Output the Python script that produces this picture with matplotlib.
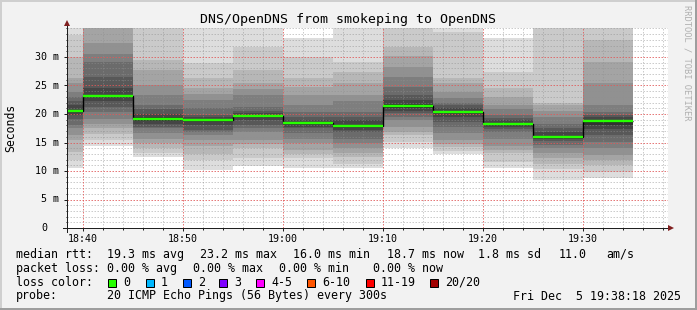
import matplotlib
matplotlib.use("Agg")
import matplotlib.pyplot as plt
from matplotlib.lines import Line2D
from matplotlib.patches import Rectangle
from matplotlib.ticker import FixedLocator
import numpy as np

# ---------------- data ----------------
bin_starts = ["18:35", "18:40", "18:45", "18:50", "18:55", "19:00",
              "19:05", "19:10", "19:15", "19:20", "19:25", "19:30"]
step_min = 5
# 20 sorted ping RTTs (ms) per 5-minute step
pings_ms = [
    [10.5, 11.9, 13.4, 15.4, 16.3, 17.5, 18.1, 19.2, 19.8, 20.3, 20.7, 21.5, 22.2, 23.0, 23.9, 25.5, 26.3, 30.0, 33.9, 38.0],
    [14.4, 15.5, 16.5, 17.5, 18.3, 19.2, 20.3, 21.3, 22.2, 23.0, 23.4, 24.5, 26.5, 29.2, 30.6, 32.4, 36.0, 38.0, 40.0, 42.0],
    [12.5, 13.2, 14.0, 15.0, 15.7, 16.6, 17.5, 17.8, 18.3, 18.8, 19.4, 20.0, 20.8, 21.6, 23.3, 25.1, 27.7, 29.5, 36.0, 40.0],
    [10.2, 11.9, 13.0, 14.3, 15.4, 16.3, 16.8, 17.2, 18.1, 18.8, 19.1, 19.4, 19.8, 21.0, 22.5, 23.5, 24.5, 26.3, 28.9, 36.0],
    [10.9, 12.2, 14.0, 14.7, 15.4, 16.9, 17.5, 18.1, 18.9, 19.6, 19.8, 20.1, 20.6, 21.3, 23.3, 24.3, 25.4, 27.7, 31.8, 36.0],
    [10.5, 12.2, 13.0, 13.7, 14.9, 15.7, 16.6, 17.5, 17.8, 18.2, 18.6, 18.9, 19.5, 20.4, 21.6, 23.3, 24.8, 26.3, 30.0, 33.3],
    [10.5, 11.3, 12.5, 13.2, 14.0, 14.9, 15.7, 16.9, 17.2, 17.7, 18.1, 18.9, 19.4, 20.4, 22.2, 23.3, 25.4, 27.4, 29.2, 36.0],
    [14.0, 15.1, 16.3, 16.9, 17.8, 18.9, 19.5, 20.1, 20.5, 21.0, 21.8, 22.5, 23.3, 24.8, 26.5, 28.3, 30.1, 31.8, 36.0, 40.0],
    [12.9, 13.5, 14.2, 14.8, 15.4, 16.6, 17.8, 18.65, 19.5, 20.2, 20.6, 21.0, 21.6, 22.0, 22.8, 23.9, 25.4, 26.3, 34.3, 37.0],
    [10.5, 11.6, 13.1, 13.7, 14.3, 15.7, 16.9, 17.4, 17.8, 18.1, 18.5, 18.9, 19.3, 19.8, 20.8, 21.6, 23.0, 24.5, 27.4, 33.3],
    [8.5, 10.3, 11.3, 12.2, 13.1, 14.0, 14.6, 15.2, 15.7, 15.8, 16.2, 16.9, 17.5, 18.3, 19.5, 20.5, 21.6, 21.9, 36.0, 40.0],
    [8.8, 9.9, 11.05, 11.9, 12.8, 14.0, 15.1, 16.3, 17.3, 18.1, 18.9, 19.4, 19.8, 20.3, 21.6, 25.4, 29.2, 33.0, 36.0, 40.0],
]
median_ms = [20.5, 23.2, 19.1, 18.95, 19.7, 18.4, 17.9, 21.4, 20.4, 18.3, 16.0, 18.75]

x_tick_labels = ["18:40", "18:50", "19:00", "19:10", "19:20", "19:30"]
y_tick_values = [0, 5, 10, 15, 20, 25, 30]
y_tick_labels = ["0", "5 m", "10 m", "15 m", "20 m", "25 m", "30 m"]

title = "DNS/OpenDNS from smokeping to OpenDNS"
stats_rtt = [("median rtt:", 16), ("19.3 ms avg", 107), ("23.2 ms max", 200),
             ("16.0 ms min", 293.3), ("18.7 ms now", 386.7), ("1.8 ms sd", 478.3),
             ("11.0", 558.3), ("am/s", 606.7)]
stats_loss = [("packet loss:", 16), ("0.00 % avg", 107.3), ("0.00 % max", 193.3),
              ("0.00 % min", 279.3), ("0.00 % now", 373.3)]
loss_labels = ["0", "1", "2", "3", "4-5", "6-10", "11-19", "20/20"]
loss_colors = ["#26ff00", "#00b8ff", "#0059ff", "#7e00ff", "#ff00ff", "#ff5500", "#ff0000", "#a10000"]
loss_box_x = [108.3, 145.7, 182.7, 219.3, 256.0, 307.0, 365.5, 430.3]
probe_text = "20 ICMP Echo Pings (56 Bytes) every 300s"
date_text = "Fri Dec  5 19:38:18 2025"

# ---------------- figure ----------------
W, H, DPI = 697, 310, 100
plt.rcParams['font.family'] = ['DejaVu Sans Mono']
fig = plt.figure(figsize=(W / DPI, H / DPI), dpi=DPI, facecolor="#f2f2f2")

def fx(x):
    return x / W

def fy(y):
    return 1 - y / H

PX = 72.0 / DPI  # points per pixel

ax_l, ax_r, ax_t, ax_b = 67, 668, 28, 228
ax = fig.add_axes([fx(ax_l), fy(ax_b), (ax_r - ax_l) / W, (ax_b - ax_t) / H])
ax.set_facecolor("white")

def tmin(s):
    h, m = s.split(":")
    return (int(h) - 18) * 60 + int(m)

starts = np.array([tmin(s) for s in bin_starts], dtype=float)
x_left = tmin("18:40") - (83 - ax_l) / 10.0
x_right = x_left + (ax_r - ax_l) / 10.0
ax.set_xlim(x_left, x_right)
y_top = (ax_b - ax_t) / 5.7
ax.set_ylim(0, y_top)

# smoke
P = np.array(pings_ms)
n = P.shape[1]
half = n // 2
for ibot in range(1, half + 1):
    itop = n + 1 - ibot
    g = int(190 / half * (half - ibot)) + 50
    col = "#%02x%02x%02x" % (g, g, g)
    lo = P[:, ibot - 1]
    hi = P[:, itop - 1]
    ax.bar(starts, hi - lo, bottom=lo, width=step_min, align="edge",
           color=col, linewidth=0, antialiased=False, zorder=1)

# grid (rrdtool style: dotted, drawn over the graph)
major_x = [tmin(s) for s in x_tick_labels]
minor_x = [v for v in np.arange(36, 100, 2) if v not in major_x and x_left < v < x_right]
minor_y = [v for v in range(1, 36) if v not in y_tick_values and v < y_top]
gkw = dict(lw=PX, linestyles=[(0, (1.5, 1.5))], antialiaseds=True, snap=True)
grid_c = (0.56, 0.56, 0.56, 0.45)
mgrid_c = (0.88, 0.35, 0.35, 0.8)
ax.hlines(minor_y, x_left, x_right, colors=[grid_c], zorder=2, **gkw)
ax.vlines(minor_x, 0, y_top, colors=[grid_c], zorder=2, **gkw)
ax.hlines(y_tick_values[1:], x_left, x_right, colors=[mgrid_c], zorder=2.2, **gkw)
ax.vlines(major_x, 0, y_top, colors=[mgrid_c], zorder=2.2, **gkw)

# median line
edges = np.append(starts, starts[-1] + step_min)
ax.stairs(median_ms, edges, baseline=None, color="#000000", lw=1.4 * PX, zorder=3)
ax.hlines(median_ms, starts, starts + step_min, color="#26ff00", lw=2.4 * PX, zorder=4)

# ticks
ax.xaxis.set_major_locator(FixedLocator(major_x))
ax.xaxis.set_minor_locator(FixedLocator(minor_x))
ax.yaxis.set_major_locator(FixedLocator(y_tick_values))
ax.yaxis.set_minor_locator(FixedLocator(minor_y))
ax.set_xticklabels(x_tick_labels, fontsize=7.2)
ax.set_yticklabels([])
ax.tick_params(axis="both", which="major", direction="out", length=3 * PX, width=PX, color="#1f1f1f")
ax.tick_params(axis="both", which="minor", direction="out", length=1.5 * PX, width=PX, color="#1f1f1f")
ax.tick_params(axis="x", which="major", pad=2.0, labelcolor="#000000")

for s in ax.spines.values():
    s.set_visible(False)

# axis lines with arrows
ax.add_line(Line2D([0, 0], [-4 / 200, 1 + 4 / 200], transform=ax.transAxes,
                   color="#1f1f1f", lw=PX, clip_on=False, zorder=5))
ax.add_line(Line2D([-4 / 601, 1.0], [0, 0], transform=ax.transAxes,
                   color="#1f1f1f", lw=PX, clip_on=False, zorder=5))
ax.plot([0], [1 + 5 / 200], marker="^", markersize=5.5 * PX, color="#801f1f",
        transform=ax.transAxes, clip_on=False, zorder=6, mew=0)
ax.plot([1 + 3 / 601], [0], marker=">", markersize=5.5 * PX, color="#801f1f",
        transform=ax.transAxes, clip_on=False, zorder=6, mew=0)

# y tick labels (rrdtool style, fixed columns)
for v, lab in zip(y_tick_values, y_tick_labels):
    ypx = ax_b - v * 5.7
    padded = lab if len(lab) == 4 else (" " + lab)
    xcol = 35.3 + (len(padded) - len(padded.lstrip())) * 6.02
    fig.text(fx(xcol), fy(ypx), padded.strip(), fontsize=7.2, ha="left", va="center", color="#000000")

# title and axis label
fig.text(fx(348), fy(19.3), title, fontsize=9.5, ha="center", va="center", color="#000000")
fig.text(fx(10.5), fy(128), "Seconds", fontsize=8.3, rotation=90, ha="center", va="center")
fig.text(fx(687), fy(5), "RRDTOOL / TOBI OETIKER", fontsize=6.3, rotation=270,
         ha="center", va="top", color="#b0b0b0")

# legend lines
LF = 8.4
for s, x in stats_rtt:
    fig.text(fx(x), fy(254.3), s, fontsize=LF, ha="left", va="center")
for s, x in stats_loss:
    fig.text(fx(x), fy(268.3), s, fontsize=LF, ha="left", va="center")
fig.text(fx(16), fy(282.3), "loss color:", fontsize=LF, ha="left", va="center")
for lab, c, bx in zip(loss_labels, loss_colors, loss_box_x):
    fig.add_artist(Rectangle((fx(bx), fy(286.7)), 8 / W, 8 / H, transform=fig.transFigure,
                             facecolor=c, edgecolor="#000000", lw=PX))
    fig.text(fx(bx + 15), fy(282.3), lab, fontsize=LF, ha="left", va="center")
fig.text(fx(16), fy(296), "probe:", fontsize=LF, ha="left", va="center")
fig.text(fx(107.3), fy(296), probe_text, fontsize=LF, ha="left", va="center")
fig.text(fx(513.3), fy(296), date_text, fontsize=LF, ha="left", va="center")

# 3D frame
fig.add_artist(Line2D([0, 1], [1 - 1 / H, 1 - 1 / H], transform=fig.transFigure, color="#cfcfcf", lw=2 * PX))
fig.add_artist(Line2D([1 / W, 1 / W], [0, 1], transform=fig.transFigure, color="#cfcfcf", lw=2 * PX))
fig.add_artist(Line2D([0, 1], [1.5 / H, 1.5 / H], transform=fig.transFigure, color="#9e9e9e", lw=3 * PX))
fig.add_artist(Line2D([1 - 1 / W, 1 - 1 / W], [0, 1], transform=fig.transFigure, color="#9e9e9e", lw=2 * PX))

fig.savefig("out.png", dpi=DPI, facecolor=fig.get_facecolor())
